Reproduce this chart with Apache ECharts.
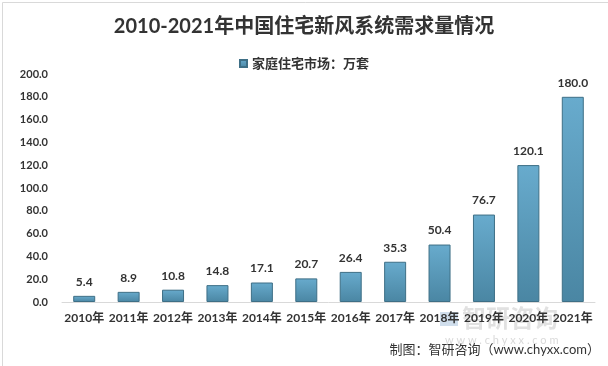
<!DOCTYPE html>
<html><head><meta charset="utf-8">
<script src="https://cdn.jsdelivr.net/npm/echarts@6/dist/echarts.min.js"></script>
<style>html,body{margin:0;padding:0;background:#fff}#c{width:608px;height:366px}</style>
</head><body><div id="c"></div>
<script>
const categories = ['2010年','2011年','2012年','2013年','2014年','2015年','2016年','2017年','2018年','2019年','2020年','2021年'];
const values = [5.4, 8.9, 10.8, 14.8, 17.1, 20.7, 26.4, 35.3, 50.4, 76.7, 120.1, 180.0];
const seriesName = '家庭住宅市场：万套';
const titleText = '2010-2021年中国住宅新风系统需求量情况';
const sourceText = '制图：智研咨询（www.chyxx.com）';
const FONT = 'Lato, "Noto Sans CJK SC", sans-serif';
const chart = echarts.init(document.getElementById('c'));
chart.setOption({
  animation: false,
  backgroundColor: '#fff',
  title: { text: titleText, left: 'center', top: 12,
    textStyle: { fontFamily: FONT, fontSize: 20, fontWeight: 'bold', color: '#333' } },
  legend: { top: 52, left: 'center', itemWidth: 7, itemHeight: 7, itemGap: 4,
    icon: 'rect',
    textStyle: { fontFamily: FONT, fontSize: 13, fontWeight: 'bold', color: '#333' } },
  grid: { left: 62, right: 13, top: 74, bottom: 64 },
  xAxis: { type: 'category', data: categories,
    axisLine: { lineStyle: { color: '#d9d9d9' } }, axisTick: { show: false },
    axisLabel: { fontFamily: FONT, fontSize: 12, fontWeight: 'bold', color: '#333', margin: 10, interval: 0 } },
  yAxis: { type: 'value', min: 0, max: 200, interval: 20,
    splitLine: { show: false }, axisLine: { show: false }, axisTick: { show: false },
    axisLabel: { fontFamily: FONT, fontSize: 11, fontWeight: 'bold', color: '#333', margin: 14,
      formatter: v => v.toFixed(1) } },
  series: [{
    name: seriesName, type: 'bar', data: values, barWidth: 22,
    itemStyle: {
      color: new echarts.graphic.LinearGradient(0, 0, 0, 1, [
        { offset: 0, color: '#68abcd' }, { offset: 1, color: '#4a86a3' }]),
      borderColor: '#3e6f86', borderWidth: 1
    },
    label: { show: true, position: 'top', distance: 8, fontFamily: FONT, fontSize: 12,
      fontWeight: 'bold', color: '#333', formatter: p => p.value.toFixed(1) }
  }],
  graphic: [
    { type: 'rect', left: 0, top: 0, shape: { width: 607, height: 365 },
      style: { fill: 'none', stroke: '#d9d9d9', lineWidth: 1 }, silent: true },
    { type: 'rect', left: 440, top: 312, shape: { width: 18, height: 14 },
      style: { fill: 'rgba(120,160,200,0.35)' }, silent: true, z: -1 },
    { type: 'text', left: 462, top: 306, z: -1,
      style: { text: '智研咨询', fontFamily: '"Noto Sans CJK SC"', fontSize: 24, fontWeight: 'bold',
        fill: 'rgba(170,170,170,0.35)' } },
    { type: 'text', left: 445, top: 335, z: -1,
      style: { text: 'w w w . c h y x x . c o m', fontFamily: FONT, fontSize: 11,
        fill: 'rgba(170,170,170,0.45)' } },
    { type: 'text', right: 8, top: 343,
      style: { text: sourceText, fontFamily: FONT, fontSize: 13, fill: '#333' } }
  ]
});
</script></body></html>
